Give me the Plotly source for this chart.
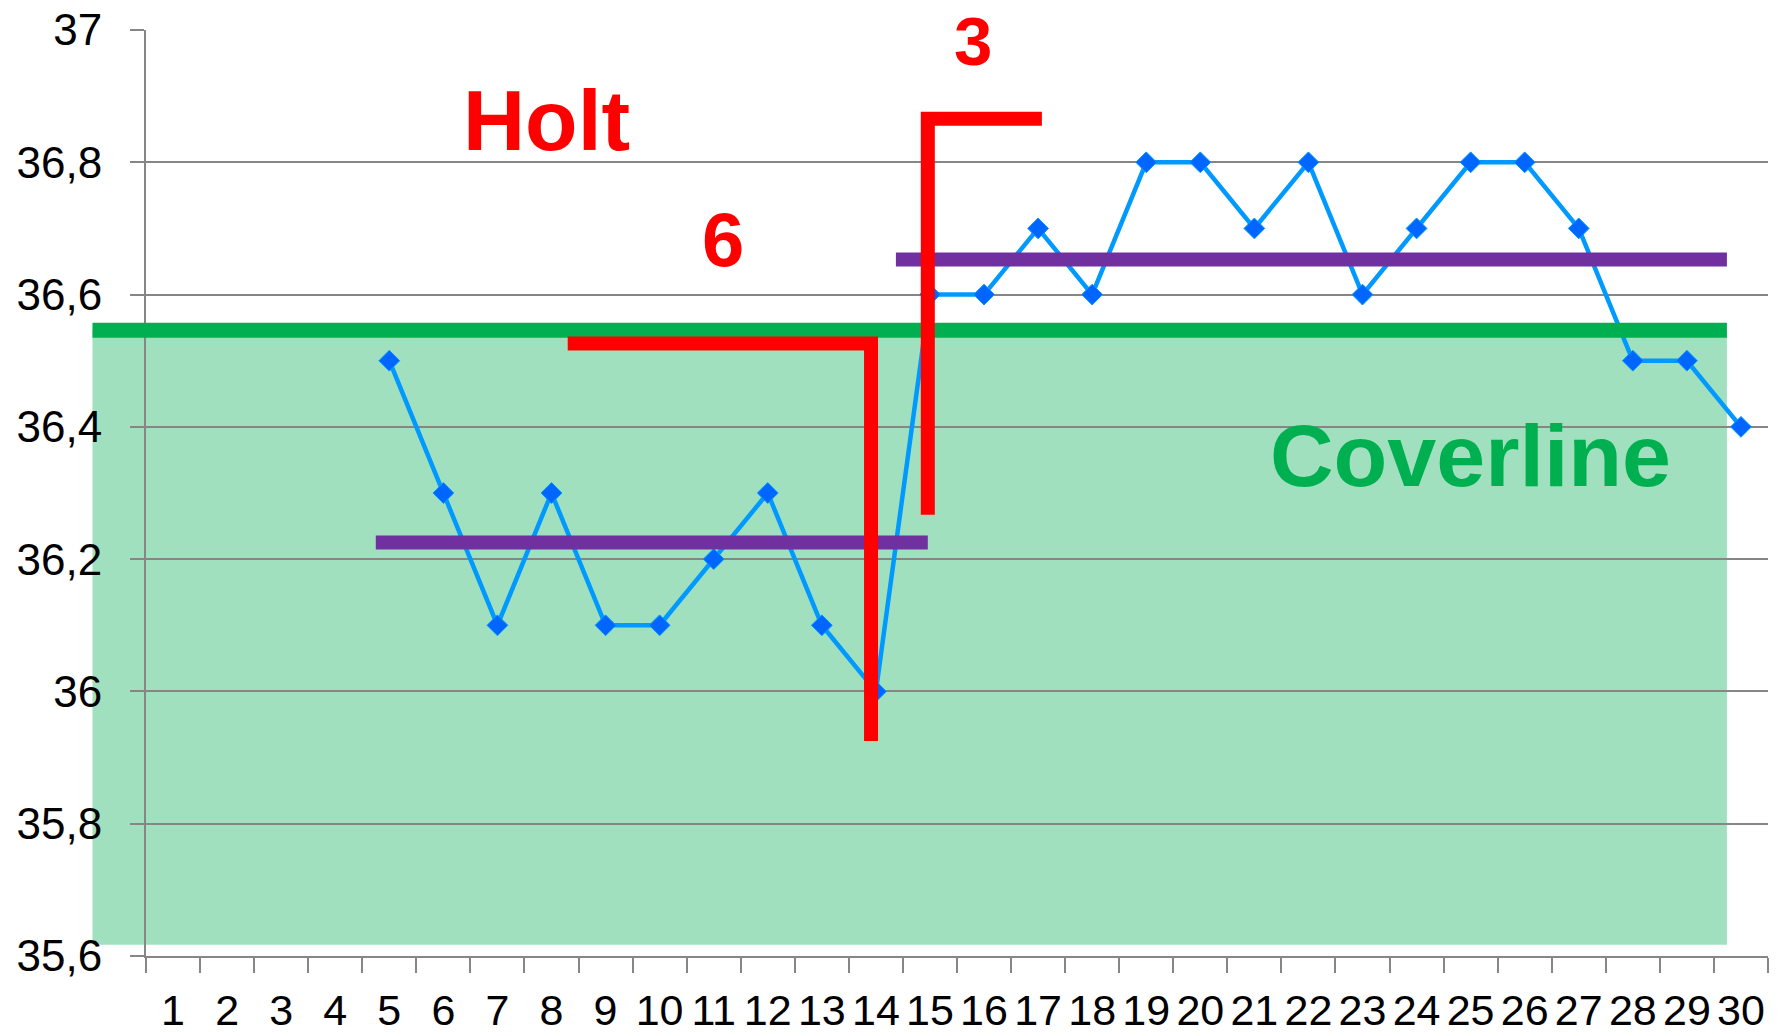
import plotly.graph_objects as go

# ---------------- data ----------------
days = list(range(1, 31))
day_labels = [str(d) for d in days]
temp_days = list(range(5, 31))
temps = [36.5, 36.3, 36.1, 36.3, 36.1, 36.1, 36.2, 36.3, 36.1, 36.0,
         36.6, 36.6, 36.7, 36.6, 36.8, 36.8, 36.7, 36.8, 36.6, 36.7,
         36.8, 36.8, 36.7, 36.5, 36.5, 36.4]
y_ticks = [35.6, 35.8, 36.0, 36.2, 36.4, 36.6, 36.8, 37.0]
y_tick_labels = ["35,6", "35,8", "36", "36,2", "36,4", "36,6", "36,8", "37"]
boundaries = [d + 0.5 for d in range(0, 31)]

coverline = 36.546
low_mean = 36.225
high_mean = 36.653

X_RANGE = [0.5, 30.5]
Y_RANGE = [35.6, 37.0]

MARGIN_T, MARGIN_B = 30, 79
FIG_H = 1035
PLOT_H = FIG_H - MARGIN_T - MARGIN_B


def px(x):
    return (x - X_RANGE[0]) / (X_RANGE[1] - X_RANGE[0])


def py(y):
    return (y - Y_RANGE[0]) / (Y_RANGE[1] - Y_RANGE[0])


fig = go.Figure()
fig.add_trace(go.Scatter(
    x=temp_days, y=temps, mode="lines+markers",
    line=dict(color="#0099FF", width=4.5),
    marker=dict(symbol="diamond", size=16, color="#0066FF",
                line=dict(color="#0099FF", width=1)),
    showlegend=False, hoverinfo="skip"))

shapes = []
# green coverline zone
shapes.append(dict(type="rect", xref="paper", yref="paper", layer="below",
                   x0=px(-0.49), x1=px(29.74), y0=py(35.617), y1=py(coverline),
                   fillcolor="#A0E0BF", line=dict(width=0)))
shapes.append(dict(type="line", xref="paper", yref="paper", layer="above",
                   x0=px(-0.49), x1=px(29.74), y0=py(coverline), y1=py(coverline),
                   line=dict(color="#00B050", width=15)))
# purple mean lines
shapes.append(dict(type="line", xref="paper", yref="paper", layer="above",
                   x0=px(4.75), x1=px(14.96), y0=py(low_mean), y1=py(low_mean),
                   line=dict(color="#7030A0", width=14)))
shapes.append(dict(type="line", xref="paper", yref="paper", layer="above",
                   x0=px(14.37), x1=px(29.74), y0=py(high_mean), y1=py(high_mean),
                   line=dict(color="#7030A0", width=14)))


def path(pts):
    return "M " + " L ".join(f"{px(a):.5f},{py(b):.5f}" for a, b in pts)


shapes.append(dict(type="path", xref="paper", yref="paper", layer="above",
                   path=path([(8.3, 36.526), (13.91, 36.526), (13.91, 35.925)]),
                   line=dict(color="#FF0000", width=14)))
shapes.append(dict(type="path", xref="paper", yref="paper", layer="above",
                   path=path([(14.96, 36.267), (14.96, 36.866), (17.07, 36.866)]),
                   line=dict(color="#FF0000", width=14)))

annotations = [
    dict(text="<b>Holt</b>", x=px(7.9), y=py(36.864), yanchor="middle",
         font=dict(size=86, color="#FF0000")),
    dict(text="<b>6</b>", x=px(11.17), y=py(36.683), yanchor="middle",
         font=dict(size=76, color="#FF0000")),
    # "3" sits right at the top edge of the page: anchor its box top 1px below it
    dict(text="<b>3</b>", x=px(15.8), y=1 + (MARGIN_T - 1) / PLOT_H, yanchor="top",
         font=dict(size=69, color="#FF0000")),
    dict(text="<b>Coverline</b>", x=px(25.0), y=py(36.357), yanchor="middle",
         font=dict(size=88, color="#00B050")),
]
for a in annotations:
    a.update(xref="paper", yref="paper", showarrow=False, xanchor="center")
    a["font"]["family"] = "Liberation Sans, Arial, sans-serif"

fig.update_layout(
    width=1785, height=FIG_H,
    margin=dict(l=146, r=17, t=MARGIN_T, b=MARGIN_B, autoexpand=False),
    paper_bgcolor="white", plot_bgcolor="rgba(0,0,0,0)",
    font=dict(family="Liberation Sans, Arial, sans-serif", size=44, color="black"),
    shapes=shapes, annotations=annotations,
)
fig.update_xaxes(
    automargin=False,
    range=X_RANGE, tickmode="array", tickvals=days, ticktext=day_labels,
    showgrid=False, zeroline=False,
    showline=True, linecolor="#868686", linewidth=2,
    ticks="outside", ticklen=15, tickcolor="rgba(0,0,0,0)",
    ticklabelstandoff=0,
    tickfont=dict(size=43),
    minor=dict(tickmode="array", tickvals=boundaries, ticks="outside",
               ticklen=15, tickcolor="#868686", tickwidth=1.5, showgrid=False),
)
fig.update_yaxes(
    automargin=False,
    range=Y_RANGE, tickmode="array", tickvals=y_ticks, ticktext=y_tick_labels,
    showgrid=True, gridcolor="#868686", gridwidth=1.5, zeroline=False,
    showline=True, linecolor="#868686", linewidth=2,
    ticks="outside", ticklen=14, tickcolor="#868686", tickwidth=1.5,
    ticklabelstandoff=19,
    tickfont=dict(size=44),
)

fig.write_html(
    "out.html",
    config={"displayModeBar": False},
    post_script="document.body.style.margin='0';document.body.style.overflow='hidden';",
)
